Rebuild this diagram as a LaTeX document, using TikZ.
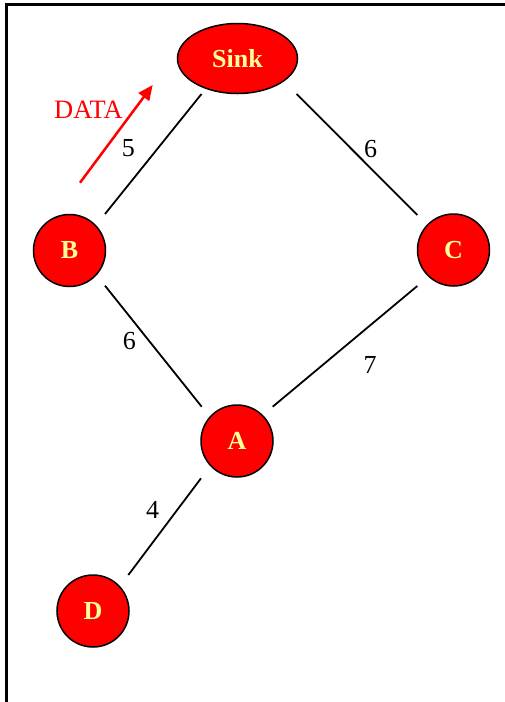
\documentclass[tikz,border=0pt]{standalone}
\usepackage{fontspec}
\setmainfont{Liberation Serif}
\usetikzlibrary{arrows.meta,shapes.geometric,calc}
\definecolor{paleyellow}{RGB}{255,255,153}
\definecolor{nodered}{RGB}{255,0,0}
\begin{document}
\begin{tikzpicture}[x=1pt,y=-1pt,
  nodecircle/.style={circle,draw=black,line width=1.5pt,fill=nodered,minimum size=72pt,inner sep=0pt,
    font=\fontsize{26}{28}\selectfont\bfseries,text=paleyellow},
  sinkellipse/.style={ellipse,draw=black,line width=1.5pt,fill=nodered,minimum width=120pt,minimum height=70pt,inner sep=0pt,
    font=\fontsize{26}{28}\selectfont\bfseries,text=paleyellow},
  edge/.style={draw=black,line width=1.8pt},
  weight/.style={font=\fontsize{26}{28}\selectfont,text=black,inner sep=0pt},
  datalabel/.style={font=\fontsize{26.5}{28}\selectfont,text=nodered,inner sep=0pt},
  dataarrow/.style={draw=nodered,line width=2.5pt,-{Triangle[length=15pt,width=13pt]}}]
\useasboundingbox (0,0) rectangle (505,702);
\coordinate (frameBL) at (6.5,702);
\coordinate (frameTL) at (6.5,4.5);
\coordinate (frameTR) at (505,4.5);
\draw[line width=2.2pt] (frameBL) -- (frameTL) -- (frameTR);

\node[sinkellipse] (sink) at (237.5,58.5) {Sink};
\node[nodecircle] (B) at (69.5,250.5) {B};
\node[nodecircle] (C) at (453.5,250) {C};
\node[nodecircle] (A) at (237,441) {A};
\node[nodecircle] (D) at (93,611) {D};

\draw[edge] ($(sink)+(-36,35.5)$) -- ($(B)+(35.5,-36.5)$);
\draw[edge] ($(sink)+(59.2,35.5)$) -- ($(C)+(-36.2,-35)$);
\draw[edge] ($(B)+(35.5,35.2)$) -- ($(A)+(-35.3,-34.3)$);
\draw[edge] ($(C)+(-36.2,36)$) -- ($(A)+(35.7,-34.3)$);
\draw[edge] ($(A)+(-36,37.3)$) -- ($(D)+(35.3,-36)$);

\node[weight] (w5) at (128.3,148.3) {5};
\node[weight] (w6a) at (370.7,149) {6};
\node[weight] (w6b) at (129.3,341) {6};
\node[weight] (w7) at (370,365) {7};
\node[weight] (w4) at (152.7,510) {4};

\node[datalabel] (data) at (88.5,110) {DATA};
\coordinate (arrowStart) at (80,182.7);
\coordinate (arrowEnd) at (152.7,85);
\draw[dataarrow] (arrowStart) -- (arrowEnd);
\end{tikzpicture}
\end{document}
